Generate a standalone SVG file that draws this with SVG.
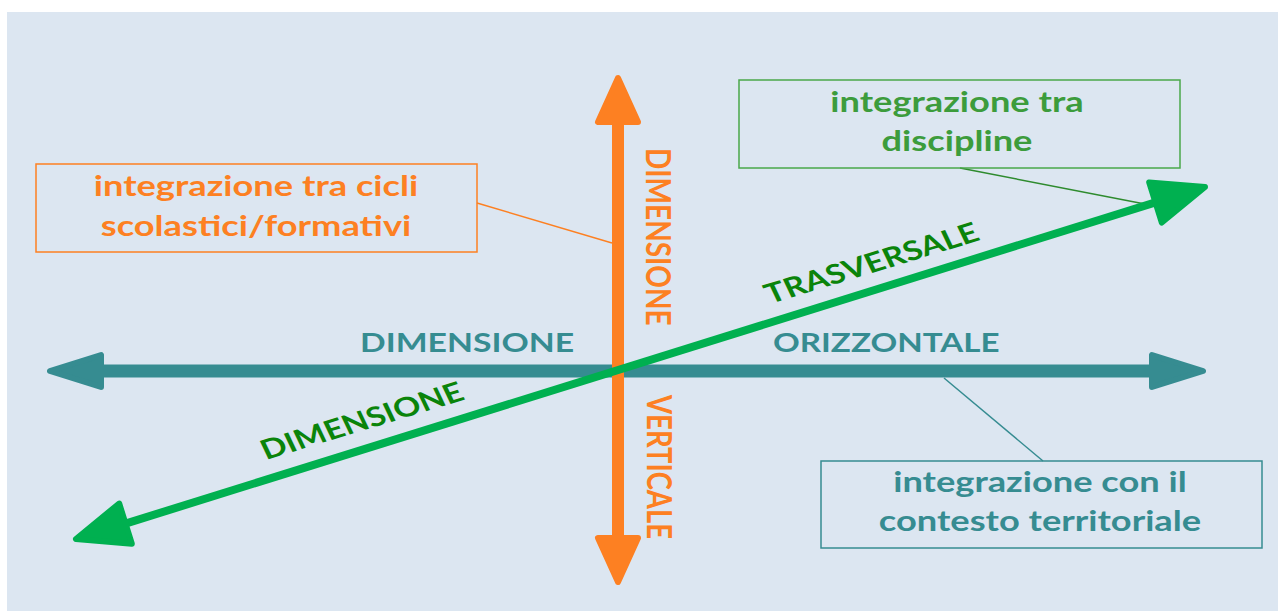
<svg xmlns="http://www.w3.org/2000/svg" width="1278" height="611" viewBox="0 0 1278 611">
  <style>
    .txt { font-family: Lato, "Open Sans", "Liberation Sans", sans-serif; font-weight: bold; }
    .orange { fill: #fd8022; }
    .teal { fill: #368c91; }
    .dkgreen { fill: #0a840a; }
    .boxgreen { fill: #3c9c3c; }
    .box { fill: none; stroke-width: 1.5; }
    .head { stroke-linejoin: round; stroke-width: 6; }
  </style>
  <rect x="0" y="0" width="1278" height="611" fill="#ffffff"/>
  <rect x="7" y="12" width="1271" height="599" fill="#dce6f1"/>

  <g id="connectors">
    <!-- leader lines from the boxes to the axes -->
    <line x1="477" y1="203" x2="612" y2="243" stroke="#fd8022" stroke-width="1.5"/>
    <line x1="960" y1="168" x2="1150" y2="205" stroke="#2e8b2e" stroke-width="1.5"/>
    <line x1="944" y1="378" x2="1043" y2="461" stroke="#368c91" stroke-width="1.5"/>
  </g>

  <g id="axis-horizontal">
    <line x1="98" y1="371" x2="1155" y2="371" stroke="#368c91" stroke-width="13"/>
    <polygon class="teal head" stroke="#368c91" points="50,371 101,355 101,387"/>
    <polygon class="teal head" stroke="#368c91" points="1203,371 1152,355 1152,387"/>
  </g>

  <g id="axis-vertical">
    <line x1="618" y1="118" x2="618" y2="542" stroke="#fd8022" stroke-width="12"/>
    <polygon class="orange head" stroke="#fd8022" points="618,78 598,122 638,122"/>
    <polygon class="orange head" stroke="#fd8022" points="618,582 598,538 638,538"/>
  </g>

  <g id="axis-transversal">
    <line x1="125.5" y1="523.6" x2="1155.5" y2="202.4" stroke="#00b050" stroke-width="8"/>
    <polygon class="head" fill="#00b050" stroke="#00b050" points="1205,187 1161.8,222.5 1149.2,182.4"/>
    <polygon class="head" fill="#00b050" stroke="#00b050" points="76,539 131.8,543.7 119.2,503.5"/>
  </g>

  <!-- all labels are drawn 1.25x wider than tall -->
  <g id="label-horizontal">
    <text class="txt teal" font-size="27" transform="translate(360,352) scale(1.25,1)">DIMENSIONE</text>
    <text class="txt teal" font-size="26.5" transform="translate(773,352) scale(1.25,1)">ORIZZONTALE</text>
  </g>

  <g id="label-vertical">
    <text class="txt orange" font-size="28" transform="translate(646,148) scale(1.25,1) rotate(90)">DIMENSIONE</text>
    <text class="txt orange" font-size="27.5" transform="translate(647,395) scale(1.25,1) rotate(90)">VERTICALE</text>
  </g>

  <g id="label-transversal">
    <text class="txt dkgreen" font-size="27" transform="translate(266,460) scale(1.25,1) rotate(-20.8)">DIMENSIONE</text>
    <text class="txt dkgreen" font-size="27" transform="translate(770,304) scale(1.25,1) rotate(-20.8)">TRASVERSALE</text>
  </g>

  <g id="box-cicli">
    <rect class="box" x="36" y="164" width="441" height="88" stroke="#fd8022"/>
    <text class="txt orange" font-size="29" text-anchor="middle" transform="translate(256,196) scale(1.25,1)">integrazione tra cicli</text>
    <text class="txt orange" font-size="29" text-anchor="middle" transform="translate(256,236) scale(1.25,1)">scolastici/formativi</text>
  </g>

  <g id="box-discipline">
    <rect class="box" x="739" y="80" width="441" height="88" stroke="#4aa84a"/>
    <text class="txt boxgreen" font-size="29" text-anchor="middle" transform="translate(957,112) scale(1.25,1)">integrazione tra</text>
    <text class="txt boxgreen" font-size="29" text-anchor="middle" transform="translate(957,151) scale(1.25,1)">discipline</text>
  </g>

  <g id="box-territorio">
    <rect class="box" x="821" y="461" width="441" height="87" stroke="#368c91"/>
    <text class="txt teal" font-size="29" text-anchor="middle" transform="translate(1040,492) scale(1.25,1)">integrazione con il</text>
    <text class="txt teal" font-size="29" text-anchor="middle" transform="translate(1040,531) scale(1.25,1)">contesto territoriale</text>
  </g>
</svg>
